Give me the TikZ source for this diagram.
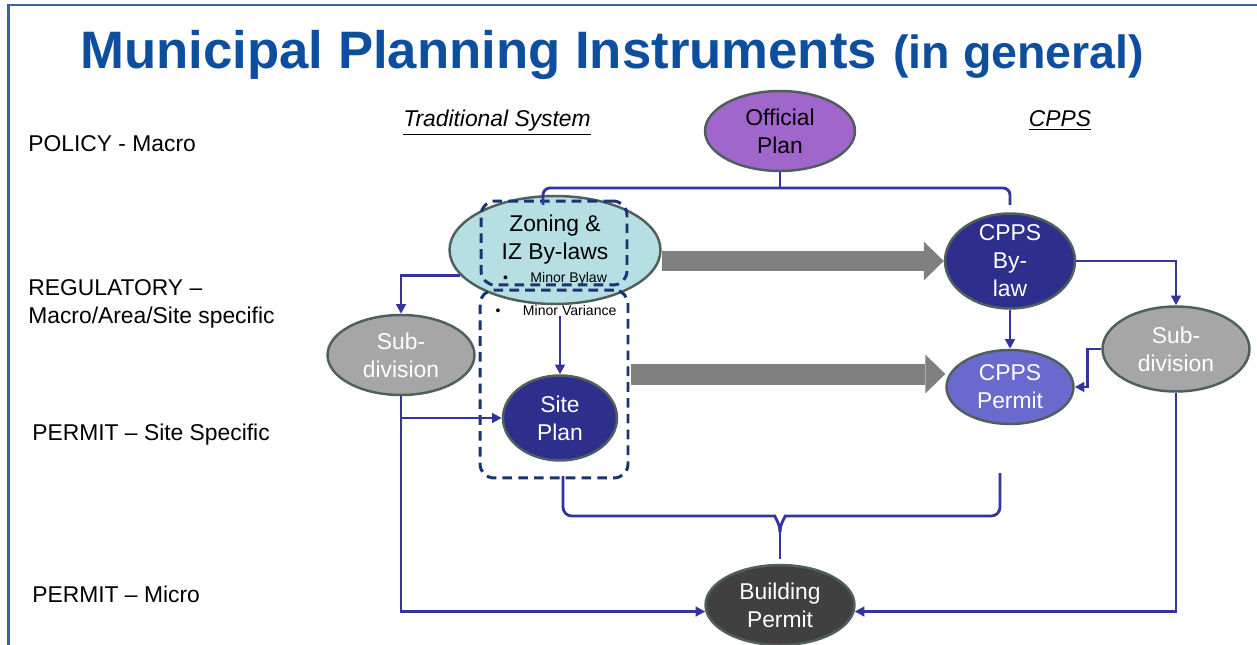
\documentclass[tikz,border=0pt]{standalone}
\usepackage{fontspec}
\setmainfont{Liberation Sans}
\usetikzlibrary{shapes.geometric, positioning, arrows.meta}

\definecolor{titleblue}{HTML}{0D4F9E}
\definecolor{linkblue}{HTML}{34349C}
\definecolor{dashnavy}{HTML}{1A3470}
\definecolor{frameblue}{HTML}{3E60A6}
\definecolor{rimgray}{HTML}{4F5F5D}
\definecolor{opfill}{HTML}{A066CC}
\definecolor{zonfill}{HTML}{B5DFE3}
\definecolor{navyfill}{HTML}{2E2E8C}
\definecolor{permfill}{HTML}{6A6ACE}
\definecolor{subfill}{HTML}{A6A6A6}
\definecolor{bpfill}{HTML}{404040}
\definecolor{arrgray}{HTML}{808080}

\tikzset{
  bubble/.style={ellipse, draw=rimgray, line width=1.4pt, inner sep=0pt, align=center,
    font=\fontsize{13}{15.9}\selectfont},
  link/.style={draw=linkblue, line width=1.6pt},
  conn/.style={link, -{Triangle[length=5.5pt,width=5.5pt]}},
  dashbox/.style={draw=dashnavy, line width=1.7pt, dash pattern=on 5.5pt off 3.5pt, rounded corners=8pt},
  bigarrow/.style={draw=arrgray, line width=0.42cm, -{Triangle[length=0.4cm,width=0.78cm,line width=0pt]}},
  lvl/.style={anchor=base west, inner sep=0pt, font=\fontsize{13}{16}\selectfont},
  colhead/.style={anchor=base, inner sep=0pt, font=\fontsize{13}{16}\selectfont\itshape},
  bullet/.style={inner sep=0pt, font=\fontsize{8}{9.5}\selectfont}
}

\begin{document}
\begin{tikzpicture}[x=0.02cm, y=-0.02cm]
  \useasboundingbox (0,0) rectangle (1257,645);
  % slide frame
  \draw[frameblue, line width=1.4pt] (8.5,645) -- (8.5,5) -- (1257,5);
  % title
  \node[anchor=base west, inner sep=0pt, text=titleblue, font=\fontsize{30}{36}\selectfont\bfseries] (title) at (80,69) {Municipal Planning Instruments};
  \node[anchor=base west, inner sep=0pt, text=titleblue, font=\fontsize{26.5}{32}\selectfont\bfseries] (subtitle) at (893,69) {(in general)};

  % level labels on the left
  \foreach \name/\x/\y/\txt in {pol/28/152/POLICY - Macro, pss/32/440/PERMIT – Site Specific, pmi/32/602/PERMIT – Micro}
    \node[lvl] (\name) at (\x,\y) {\txt};
  \node[lvl, anchor=north west, align=left] (reg) at (28,279) {REGULATORY –\\Macro/Area/Site specific};

  % column headings
  \node[colhead] (trad) at (497,127) {\underline{Traditional System}};
  \node[colhead] (cpps) at (1060,127) {\underline{CPPS}};

  % instruments
  \node[bubble, fill=opfill, minimum width=3cm, minimum height=1.6cm] (op) at (780,131) {Official\\Plan};
  \node[bubble, fill=zonfill, minimum width=4.22cm, minimum height=2.16cm] (zon) at (555,250)
    {Zoning \&\\IZ By-laws\\[-3pt]{\fontsize{8}{9.5}\selectfont\textbullet\hspace{1.6em}Minor Bylaw}};
  \node[bubble, fill=navyfill, text=white, minimum width=2.6cm, minimum height=1.9cm, inner ysep=-2pt] (cb) at (1010,261) {CPPS\\By-\\law};
  \node[bubble, fill=permfill, text=white, minimum width=2.54cm, minimum height=1.48cm] (cp) at (1010,387) {CPPS\\Permit};
  \node[bubble, fill=subfill, text=white, minimum width=2.94cm, minimum height=1.6cm] (sdl) at (401,355) {Sub-\\division};
  \node[bubble, fill=subfill, text=white, minimum width=2.94cm, minimum height=1.7cm] (sdr) at (1176,349) {Sub-\\division};
  \node[bubble, fill=navyfill, text=white, minimum width=2.28cm, minimum height=1.7cm] (sp) at (560,418) {Site\\Plan};
  \node[bubble, fill=bpfill, text=white, minimum width=2.98cm, minimum height=1.6cm] (bp) at (780,605) {Building\\Permit};

  % dashed groupings (minor bylaw / minor variance)
  \node[dashbox, minimum width=2.92cm, minimum height=1.68cm] (mbbox) at (554,243) {};
  \node[dashbox, minimum width=2.96cm, minimum height=3.76cm] (mvbox) at (554,384) {};
  \node[bullet] (mv) at (556,310) {\textbullet\hspace{1.6em}Minor Variance};

  % traditional system -> CPPS
  \draw[bigarrow] (zon.east |- cb.west) -- (cb.west);
  \coordinate (spout) at (631,374);
  \draw[bigarrow] (spout) -- (cp.west |- spout);

  % Official Plan bracket
  \coordinate (opj) at (780,188);
  \coordinate (opl) at (543,205);
  \coordinate (opr) at (1010,205);
  \draw[link] (op.south) -- (opj);
  \draw[link, rounded corners=4pt] (opl) |- (opj) -| (opr);

  % bracket into Building Permit
  \coordinate (spd) at (563,476);
  \coordinate (cpd) at (1000,473);
  \coordinate (brj) at (780,516);
  \coordinate (bpj) at (780,532);
  \draw[link, rounded corners=5pt] (spd) |- ([xshift=-8pt]brj) to[out=0,in=90] (bpj);
  \draw[link, rounded corners=5pt] (cpd) |- ([xshift=8pt]brj) to[out=180,in=90] (bpj);
  \draw[link, shorten >=3pt] (bpj) -- (bp.north);

  % connectors
  \draw[conn] (zon.195) -| (sdl.north);
  \coordinate (mvout) at (560,316);
  \draw[conn] (mvout) -- (sp.north);
  \draw[conn] (sdl.south) |- (bp.185);
  \draw[conn] (sdl.south |- sp.west) -- (sp.west);
  \draw[conn] (cb.east) -| (sdr.north);
  \draw[conn] (cb.south) -- (cp.north);
  \draw[conn] (sdr.west) -- ++(-14,0) |- (cp.east);
  \draw[conn] (sdr.south) |- (bp.-5);
\end{tikzpicture}
\end{document}
